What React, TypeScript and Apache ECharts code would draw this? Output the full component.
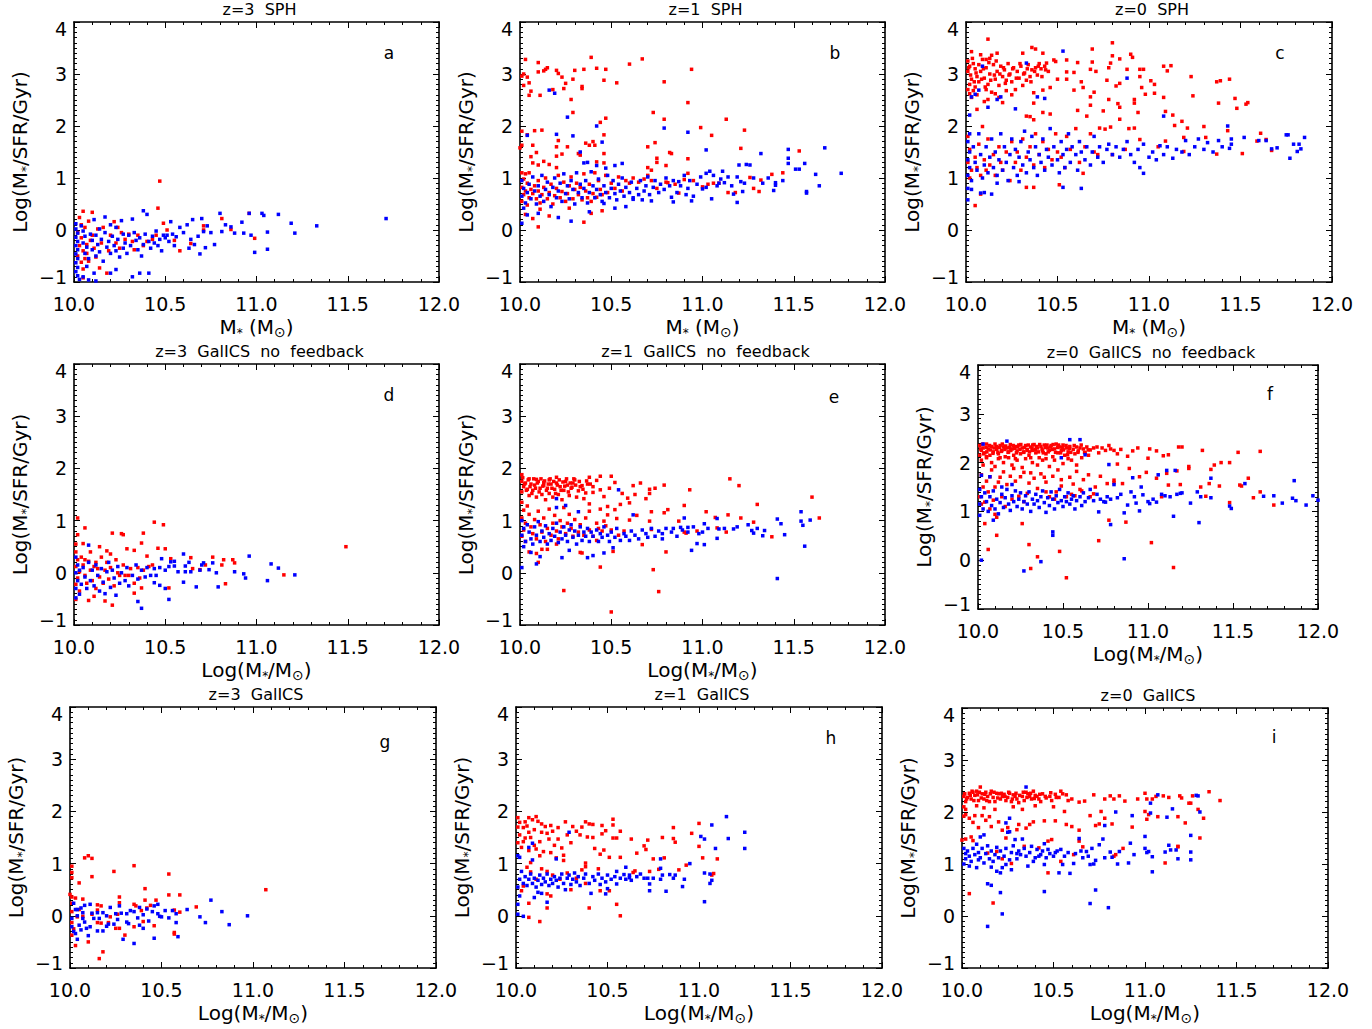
import React, { useEffect, useRef } from "react";
import * as echarts from "echarts";

// Log(M*/SFR/Gyr) against stellar mass, [mass, value] pairs

const aBlue = [
  [10.01,0.12],[10.01,0.02],[10.02,-0.06],[10.01,-0.14],[10.02,-0.22],[10.01,-0.3],[10.02,-0.38],[10.01,-0.46],[10.02,-0.55],[10.01,-0.63],[10.02,-0.72],[10.01,-0.8],[10.02,-0.88],[10.03,-0.95],[10.05,-0.9],
  [10.04,0.08],[10.05,-0.02],[10.06,-0.12],[10.05,-0.25],[10.07,-0.33],[10.06,-0.45],[10.08,-0.55],[10.07,-0.7],[10.09,-0.08],[10.1,-0.2],[10.1,-0.38],[10.11,0.2],[10.12,-0.5],[10.12,-0.1],[10.13,-0.28],[10.14,0.02],[10.14,-0.42],[10.15,-0.18],[10.16,-0.6],[10.17,0.25],[10.17,-0.05],[10.18,-0.33],[10.19,-0.22],[10.2,-0.45],[10.2,0.1],[10.21,-0.12],[10.22,-0.3],[10.23,-0.4],[10.23,0.05],[10.24,-0.18],[10.25,-0.52],[10.26,0.18],[10.27,-0.08],[10.27,-0.35],[10.28,-0.25],[10.29,-0.45],[10.3,-0.1],[10.31,-0.3],[10.32,0.21],[10.33,-0.05],[10.34,-0.2],[10.35,-0.38],[10.36,-0.15],[10.37,-0.5],[10.38,0.37],[10.38,-0.28],[10.39,-0.08],[10.4,0.3],[10.41,-0.22],[10.42,-0.35],[10.43,-0.12],[10.44,-0.25],[10.45,-0.02],[10.46,-0.3],[10.47,-0.18],[10.48,-0.4],[10.49,-0.1],[10.5,-0.15],[10.51,-0.1],[10.52,-0.22],[10.53,0.16],[10.54,-0.08],[10.55,-0.3],[10.56,-0.13],[10.58,0.05],[10.6,-0.05],[10.62,0.1],[10.63,-0.35],[10.64,-0.18],[10.65,0.2],[10.66,-0.28],[10.68,-0.12],[10.69,-0.46],[10.7,0.22],[10.71,-0.03],[10.72,-0.34],[10.73,0.08],[10.75,-0.05],[10.77,-0.28],[10.8,0.32],[10.81,-0.03],[10.83,0.1],[10.86,0.06],[10.88,-0.06],[10.92,0.15],[10.93,-0.06],[10.96,0.32],[10.97,-0.1],[10.99,-0.43],[11.03,0.32],[11.04,0.28],[11.06,-0.04],[11.06,-0.37],[11.12,0.3],[11.19,0.13],[11.21,-0.06],[11.33,0.08],[11.71,0.22],
  [10.23,-0.76],[10.2,-0.83],[10.11,-0.83],[10.12,-0.98],[10.32,-0.9],[10.36,-0.83],[10.41,-0.83],[10.08,-0.96],
];
const aRed = [
  [10.47,0.94],[10.46,0.42],[10.05,0.36],[10.1,0.34],[10.03,0.24],[10.08,0.17],[10.04,0.1],[10.06,0.05],[10.02,-0.05],[10.04,-0.15],[10.03,-0.3],[10.05,-0.4],[10.02,-0.5],[10.06,-0.55],[10.04,-0.62],[10.07,-0.45],[10.08,-0.6],[10.09,-0.2],[10.11,-0.35],[10.1,-0.1],[10.13,0.02],[10.15,-0.25],[10.05,-0.75],[10.14,-0.73],[10.18,-0.83],[10.05,-0.92],[10.2,-0.1],[10.22,0.16],[10.23,-0.25],[10.24,0.05],[10.25,-0.35],[10.26,-0.05],[10.28,-0.18],[10.3,-0.08],[10.32,-0.22],[10.33,-0.38],[10.35,-0.1],[10.38,-0.3],[10.4,-0.22],[10.43,-0.18],[10.45,-0.1],[10.49,0.13],[10.51,0.0],[10.55,-0.2],[10.58,-0.4],[10.64,-0.26],[10.71,0.08],[10.71,0.0],[10.81,0.22],[10.86,0.01],[10.96,0.32],[10.99,-0.16],[10.19,-0.4],[10.16,0.05],[10.12,-0.52],[10.07,-0.28],
];

const bBlue = [
  [10.16,2.69],[10.19,2.63],[10.26,2.17],[10.04,1.82],[10.2,1.84],[10.29,1.81],[10.42,2.0],[10.79,1.96],[10.92,1.88],[10.45,1.69],[10.33,1.5],[11.02,1.54],[11.32,1.47],[11.47,1.55],[11.67,1.58],[11.47,1.38],[11.47,1.28],[11.56,1.28],[11.51,1.17],[11.53,1.17],[11.76,1.09],[11.62,1.07],[11.64,0.85],[11.57,0.74],[11.57,0.71],[11.4,0.91],[11.4,0.86],[11.39,0.76],[11.24,1.26],[11.2,1.25],[11.26,1.25],[11.19,0.53],[11.17,0.69],[11.22,0.74],[11.21,0.93],[11.11,1.13],[11.12,0.91],[11.09,0.9],[11.05,0.6],[11.04,1.13],[11.02,1.09],[11.0,0.79],[10.94,0.56],[10.91,0.68],[10.87,0.93],[10.84,0.54],[10.83,0.63],[10.72,0.56],[10.67,0.58],[10.62,0.59],[10.58,0.45],[10.52,0.42],[10.46,0.51],[10.38,0.35],[10.28,0.17],[10.21,0.24],[10.1,0.32],[10.04,0.29],[10.01,0.13],[10.56,1.28],[10.52,1.24],[10.47,1.19],[10.42,1.24],[10.37,1.3],[10.35,1.29],
  [10.01,0.95],[10.02,0.8],[10.01,0.65],[10.03,0.52],[10.02,0.42],[10.04,0.72],[10.05,0.88],[10.06,0.6],[10.07,1.02],[10.08,0.75],[10.09,0.5],[10.1,0.85],[10.11,0.65],[10.12,1.05],[10.13,0.55],[10.14,0.78],[10.15,0.92],[10.16,0.68],[10.17,0.45],[10.18,0.82],[10.19,1.0],[10.2,0.62],[10.21,0.75],[10.22,0.9],[10.23,0.55],[10.24,1.08],[10.25,0.7],[10.26,0.85],[10.27,0.6],[10.28,0.95],[10.29,0.78],[10.3,0.5],[10.31,1.1],[10.32,0.72],[10.33,0.88],[10.34,0.62],[10.35,0.8],[10.36,0.95],[10.37,0.52],[10.38,0.72],[10.39,1.12],[10.4,0.85],[10.41,0.62],[10.42,0.78],[10.43,0.98],[10.44,0.68],[10.45,0.55],[10.46,0.85],[10.47,0.72],[10.48,1.05],[10.49,0.62],[10.5,0.8],[10.51,0.95],[10.52,0.7],[10.53,0.58],[10.54,0.88],[10.55,0.75],[10.56,1.0],[10.57,0.65],[10.58,0.82],[10.6,0.72],[10.61,0.92],[10.62,0.62],[10.64,0.8],[10.65,0.68],[10.66,0.95],[10.68,0.75],[10.69,0.85],[10.7,1.02],[10.71,0.68],[10.73,0.82],[10.74,0.95],[10.76,0.72],[10.77,0.88],[10.79,0.78],[10.8,1.0],[10.82,0.85],[10.84,0.95],[10.86,0.72],[10.88,0.85],[10.9,1.05],[10.92,0.8],[10.93,0.95],[10.95,0.65],[10.97,0.88],[10.99,1.02],[11.02,0.82],[11.06,1.05],[11.08,0.85],[11.1,0.98],[11.14,1.02],[11.16,0.85],[11.19,1.02],[11.23,0.9],[11.28,1.0],[11.33,0.9],[11.36,1.0],[11.44,0.95],
];
const bRed = [
  [10.03,3.28],[10.1,3.22],[10.02,3.0],[10.01,2.96],[10.04,2.94],[10.05,2.83],[10.02,2.78],[10.06,2.67],[10.11,2.59],[10.05,2.59],[10.1,3.04],[10.13,3.06],[10.15,3.12],[10.14,3.09],[10.2,3.07],[10.21,3.01],[10.23,2.94],[10.25,2.82],[10.24,2.72],[10.18,2.7],[10.29,2.9],[10.3,3.07],[10.35,3.09],[10.34,2.76],[10.34,2.72],[10.39,3.32],[10.42,3.11],[10.47,3.09],[10.46,2.88],[10.53,2.83],[10.6,3.19],[10.67,3.29],[10.94,3.09],[10.79,2.85],
  [10.28,2.51],[10.29,2.26],[10.92,2.45],[10.73,2.26],[10.79,2.13],[10.47,2.15],[10.44,2.07],[11.13,2.13],[11.23,1.92],[10.99,1.97],[11.05,1.82],[10.12,1.92],[10.08,1.91],[10.01,1.9],[10.04,1.83],[10.46,1.83],[10.4,1.7],[10.38,1.63],[10.41,1.63],[10.36,1.67],[10.32,1.47],[10.33,1.44],[10.26,1.6],[10.21,1.72],[10.2,1.6],[10.23,1.46],[10.2,1.42],[10.07,1.63],[10.01,1.63],[10.0,1.58],[10.06,1.41],[10.09,1.49],[10.07,1.29],[10.1,1.25],[10.13,1.32],[10.16,1.26],[10.2,1.2],[10.46,1.47],[10.46,1.29],[10.42,1.31],[10.7,1.6],[10.74,1.68],[10.75,1.38],[10.75,1.3],[10.8,1.24],[10.82,1.49],[10.83,1.47],[10.92,1.37],[11.21,1.57],[11.53,1.52],[11.44,1.1],[11.38,1.07],[11.31,0.74],[11.26,1.01],[11.32,0.96],[11.14,0.72],[11.09,0.9],[11.06,0.9],[10.92,1.09],[10.87,0.71],[10.81,0.91],[10.7,1.2],[10.72,1.15],
  [10.01,1.1],[10.03,1.08],[10.05,1.1],[10.02,0.98],[10.04,0.9],[10.01,0.82],[10.03,0.75],[10.02,0.68],[10.05,0.62],[10.01,0.55],[10.04,0.48],[10.06,0.78],[10.07,0.7],[10.08,0.85],[10.09,0.6],[10.1,0.75],[10.1,0.95],[10.11,0.52],[10.12,0.68],[10.13,0.82],[10.14,1.0],[10.15,0.6],[10.16,0.72],[10.17,0.88],[10.18,0.5],[10.19,0.66],[10.2,0.8],[10.21,1.05],[10.22,0.62],[10.23,0.74],[10.24,0.92],[10.25,0.55],[10.26,0.7],[10.27,0.85],[10.28,1.02],[10.29,0.6],[10.3,0.78],[10.31,0.9],[10.32,0.68],[10.33,0.82],[10.34,0.58],[10.35,1.08],[10.36,0.75],[10.37,0.62],[10.38,0.88],[10.39,0.55],[10.4,0.7],[10.41,1.1],[10.42,0.63],[10.43,0.95],[10.44,0.78],[10.45,0.68],[10.47,1.05],[10.48,0.72],[10.5,0.9],[10.52,0.8],[10.54,1.02],[10.56,0.75],[10.58,0.95],[10.6,0.9],[10.62,1.0],[10.65,0.92],[10.68,0.98],[10.7,1.05],[10.72,0.95],[10.75,0.8],[10.8,0.92],[10.85,0.88],[10.9,0.97],[10.95,0.95],[11.0,0.83],[11.03,0.88],[11.18,0.72],[11.28,0.8],
  [10.1,0.06],[10.35,0.15],[10.16,0.27],[10.07,0.22],[10.11,0.4],[10.45,0.37],[10.39,0.32],[10.03,0.3],[10.27,0.42],
];

const cBlue = [
  [10.53,3.44],[10.33,3.21],[10.09,3.15],[10.07,2.69],[10.05,2.61],[10.03,2.56],[10.17,2.51],[10.19,2.56],[10.12,2.36],[10.27,2.33],[10.39,2.56],[10.43,2.53],[10.88,2.92],[11.08,2.19],[10.02,2.21],[10.02,1.85],[10.01,0.8],[10.01,0.58],[10.03,0.78],[10.08,0.71],[10.1,0.72],[10.14,0.69],[10.17,0.9],[10.29,0.93],[10.53,0.82],[10.63,0.8],[10.97,1.09],[11.43,2.0],[11.44,1.57],[11.45,1.65],[11.67,1.56],[11.75,1.83],[11.76,1.83],[11.79,1.65],[11.85,1.78],[11.82,1.65],[11.81,1.51],[11.83,1.56],[11.77,1.38],[11.6,1.72],[11.52,1.78],
  [10.01,1.7],[10.02,1.5],[10.01,1.35],[10.02,1.2],[10.01,1.05],[10.03,0.95],[10.04,1.6],[10.05,1.3],[10.06,1.15],[10.07,1.85],[10.08,1.45],[10.09,1.0],[10.1,1.25],[10.11,1.6],[10.12,1.1],[10.13,1.4],[10.14,1.75],[10.15,1.2],[10.16,1.5],[10.17,1.05],[10.18,1.35],[10.19,1.85],[10.2,1.15],[10.21,1.6],[10.22,1.3],[10.23,0.95],[10.24,1.45],[10.25,1.75],[10.26,1.2],[10.27,1.55],[10.28,1.05],[10.29,1.4],[10.3,1.7],[10.31,1.25],[10.32,1.9],[10.33,1.1],[10.34,1.5],[10.35,1.35],[10.36,1.8],[10.37,1.2],[10.38,1.6],[10.39,1.05],[10.4,1.45],[10.41,1.3],[10.42,1.75],[10.43,1.15],[10.44,1.55],[10.45,1.4],[10.46,1.95],[10.47,1.25],[10.48,1.6],[10.5,1.35],[10.51,1.1],[10.52,1.7],[10.53,1.45],[10.54,1.2],[10.55,1.55],[10.56,1.85],[10.57,1.3],[10.58,1.6],[10.6,1.45],[10.61,1.15],[10.62,1.7],[10.63,1.5],[10.65,1.35],[10.66,1.6],[10.68,1.25],[10.69,1.5],[10.7,1.8],[10.72,1.4],[10.73,1.6],[10.75,1.3],[10.77,1.55],[10.78,1.65],[10.8,1.45],[10.82,1.6],[10.84,1.4],[10.86,1.55],[10.88,1.7],[10.9,1.45],[10.92,1.3],[10.94,1.55],[10.95,1.2],[10.97,1.65],[11.0,1.4],[11.02,1.5],[11.04,1.35],[11.06,1.62],[11.08,1.45],[11.1,1.6],[11.13,1.38],[11.15,1.55],[11.18,1.5],[11.2,1.72],[11.22,1.45],[11.25,1.6],[11.27,1.75],[11.3,1.55],[11.32,1.68],[11.35,1.5],[11.38,1.72],[11.4,1.6],[11.45,1.75],[11.64,1.72],[11.7,1.58],
];
const cRed = [
  [10.12,3.67],[10.03,3.43],[10.08,3.37],[10.11,3.28],[10.13,3.3],[10.17,3.4],[10.14,3.36],[10.31,3.4],[10.36,3.51],[10.38,3.48],[10.42,3.4],[10.48,3.27],[10.49,3.24],[10.44,3.21],[10.55,3.27],[10.61,3.22],[10.69,3.48],[10.69,3.23],[10.8,3.6],[10.8,3.35],[10.84,3.29],[10.9,3.38],[10.91,3.32],[10.79,3.21],[10.78,3.12],[10.68,3.09],[10.71,3.05],[10.63,2.85],[10.59,3.03],[10.55,3.04],[10.55,2.9],[10.5,2.9],[10.46,2.74],[10.42,2.69],[10.37,2.64],[10.37,2.44],[10.46,2.23],[10.42,2.26],[10.33,2.19],[10.35,2.18],[10.37,2.12],[10.61,2.3],[10.66,2.19],[10.68,2.4],[10.68,2.56],[10.7,2.65],[10.59,2.69],[10.64,2.74],[10.78,2.51],[10.75,2.29],[10.77,2.88],[10.84,2.82],[10.82,2.77],[10.88,3.09],[10.95,3.09],[10.97,3.09],[10.95,2.95],[10.96,2.74],[10.98,2.61],[11.01,2.87],[11.03,2.8],[11.03,2.63],[11.08,2.55],[10.92,2.51],[10.92,2.44],[10.94,2.26],[10.83,2.43],[10.84,2.36],[10.84,2.13],[11.08,3.15],[11.1,3.06],[11.12,3.16],[11.23,2.95],[11.24,2.58],[11.09,2.28],[11.13,2.21],[11.18,2.09],[11.21,1.96],[11.14,2.01],[11.3,1.99],[11.37,2.85],[11.39,2.87],[11.44,2.9],[11.38,2.44],[11.47,2.53],[11.48,2.34],[11.53,2.42],[11.54,2.45],[11.43,1.91],[11.31,1.78],[11.19,1.78],[11.19,1.51],[11.37,1.46],[11.51,1.47],[11.61,1.86],[11.59,1.71],[11.64,1.74],[11.67,1.53],[11.09,1.71],[10.95,1.74],[10.92,1.96],[10.89,1.95],[10.79,1.98],[10.76,1.94],[10.73,1.96],[10.64,1.09],[10.51,0.87],[10.37,0.82],[10.33,0.82],[10.05,0.47],[10.08,0.69],[10.09,1.99],[10.06,2.32],[10.1,2.47],[10.12,2.51],
  [10.01,3.25],[10.02,3.15],[10.01,3.05],[10.03,2.9],[10.02,2.8],[10.01,2.7],[10.04,3.2],[10.05,3.1],[10.06,2.95],[10.07,2.85],[10.05,2.75],[10.08,3.05],[10.09,3.28],[10.1,2.92],[10.11,3.12],[10.12,2.8],[10.13,3.0],[10.14,2.65],[10.15,3.18],[10.16,2.9],[10.17,3.05],[10.18,2.78],[10.19,3.15],[10.2,2.95],[10.21,3.08],[10.22,2.88],[10.23,3.2],[10.24,3.0],[10.25,2.85],[10.26,3.12],[10.27,2.7],[10.28,3.05],[10.29,2.92],[10.3,3.15],[10.31,2.78],[10.32,3.02],[10.33,2.88],[10.34,3.18],[10.35,2.95],[10.36,3.08],[10.38,3.12],[10.39,2.98],[10.4,3.2],[10.41,3.1],[10.43,3.15],[10.45,3.05],[10.25,2.6],[10.18,2.55],[10.2,2.45],[10.06,2.6],[10.03,2.55],
  [10.015,3.12],[10.025,2.98],[10.035,3.3],[10.045,2.85],[10.055,3.02],[10.07,3.18],[10.085,2.9],[10.095,3.1],[10.105,2.75],[10.125,3.22],[10.135,2.88],[10.155,2.98],[10.165,3.25],[10.185,3.0],[10.205,3.12],[10.215,2.82],[10.235,2.98],[10.255,3.1],[10.275,2.92],[10.295,3.2],[10.315,3.0],[10.335,3.1],[10.355,2.85],[10.375,3.05],[10.395,3.15],[10.415,2.95],[10.435,3.08],[10.02,2.62],[10.04,2.68],[10.11,2.7],[10.16,2.62],[10.22,2.68],
  [10.01,1.8],[10.02,1.55],[10.01,1.3],[10.03,1.15],[10.02,1.0],[10.05,1.4],[10.06,1.2],[10.07,1.65],[10.08,1.05],[10.1,1.35],[10.11,1.15],[10.12,1.75],[10.13,1.25],[10.15,1.45],[10.16,1.05],[10.18,1.6],[10.19,1.3],[10.2,1.15],[10.22,1.5],[10.24,0.95],[10.25,1.7],[10.27,1.3],[10.28,1.5],[10.3,1.15],[10.31,1.75],[10.33,1.4],[10.35,1.6],[10.37,1.25],[10.38,1.85],[10.4,1.45],[10.42,1.7],[10.43,1.2],[10.45,1.55],[10.47,1.35],[10.49,1.85],[10.5,1.5],[10.52,1.4],[10.54,1.2],[10.55,1.8],[10.57,1.55],[10.6,1.95],[10.62,1.3],[10.65,1.6],[10.68,1.85],[10.7,1.5],[10.72,1.45],[10.8,1.45],[10.87,1.55],[11.05,1.6],
];

const dBlue = [
  [10.08,0.53],[10.6,0.36],[10.96,0.32],[11.08,0.17],[11.12,0.09],[11.21,-0.04],[11.06,-0.15],[10.94,-0.1],[10.93,-0.02],[10.88,0.02],[10.79,-0.27],[10.78,0.0],[10.76,0.19],[10.71,0.19],[10.74,0.06],[10.67,-0.27],[10.6,-0.18],[10.61,0.02],[10.61,0.13],[10.63,0.2],[10.55,0.13],[10.52,-0.51],[10.5,-0.3],[10.47,-0.24],[10.44,-0.19],[10.37,-0.68],[10.35,-0.55],[10.23,-0.43],[10.17,-0.4],[10.03,-0.41],[10.01,-0.48],[10.53,0.21],[10.55,0.22],[10.48,0.27],
  [10.01,0.3],[10.02,0.15],[10.01,0.0],[10.02,-0.15],[10.01,-0.3],[10.03,0.05],[10.04,-0.22],[10.05,0.1],[10.06,-0.08],[10.07,-0.3],[10.08,0.2],[10.09,-0.15],[10.1,0.05],[10.11,-0.25],[10.12,0.15],[10.13,-0.05],[10.14,-0.35],[10.15,0.08],[10.16,-0.18],[10.18,0.02],[10.19,0.2],[10.2,-0.28],[10.21,0.05],[10.22,-0.1],[10.24,0.12],[10.25,-0.2],[10.26,0.0],[10.28,-0.15],[10.29,0.1],[10.3,-0.25],[10.32,-0.05],[10.34,0.15],[10.35,-0.12],[10.37,0.05],[10.39,-0.08],[10.4,0.1],[10.42,-0.05],[10.44,0.08],[10.45,-0.05],[10.47,0.1],[10.5,0.05],[10.52,0.12],[10.57,0.02],[10.64,0.02],[10.69,0.05],[10.7,0.15],
];
const dRed = [
  [10.02,1.05],[10.06,0.86],[10.02,0.73],[10.21,0.76],[10.26,0.75],[10.27,0.73],[10.38,0.76],[10.44,0.97],[10.49,0.92],[10.37,0.57],[10.33,0.43],[10.29,0.46],[10.2,0.36],[10.18,0.42],[10.14,0.5],[10.05,0.56],[10.01,0.55],[10.46,0.47],[10.5,0.46],[10.4,0.32],[10.53,0.27],[10.64,0.29],[10.76,0.3],[10.82,0.25],[10.87,0.25],[10.88,0.19],[10.81,0.15],[10.72,0.15],[10.69,0.06],[10.65,0.08],[11.49,0.5],[11.15,-0.04],[10.83,-0.21],[10.52,-0.29],[10.37,-0.29],[10.33,-0.39],[10.21,-0.62],[10.17,-0.54],[10.08,-0.53],[10.01,-0.51],[10.11,-0.45],
  [10.01,0.4],[10.02,0.25],[10.01,0.12],[10.03,0.02],[10.02,-0.1],[10.01,-0.22],[10.03,-0.35],[10.04,0.3],[10.05,0.15],[10.06,-0.05],[10.07,-0.2],[10.08,0.22],[10.09,0.05],[10.1,-0.15],[10.11,0.12],[10.12,-0.3],[10.13,0.08],[10.14,-0.08],[10.15,0.3],[10.16,-0.2],[10.17,0.05],[10.18,0.2],[10.19,-0.12],[10.2,0.1],[10.22,-0.25],[10.23,0.25],[10.24,0.0],[10.25,-0.05],[10.27,0.15],[10.28,-0.05],[10.3,-0.05],[10.31,0.08],[10.33,-0.2],[10.35,0.1],[10.36,-0.1],[10.38,0.05],[10.41,0.12],[10.43,0.15],[10.06,0.25],[10.09,0.4],[10.12,0.2],
];

const eBlue = [
  [10.54,1.59],[10.2,1.25],[10.25,1.29],[10.32,1.17],[10.62,1.11],[10.2,1.42],[10.01,0.1],[10.09,0.17],[10.11,0.31],[10.23,0.29],[10.37,0.29],[10.4,0.33],[10.46,0.38],[10.51,0.48],[10.27,0.43],[10.06,0.39],[10.94,0.43],[10.97,0.56],[11.01,0.54],[11.08,0.66],[10.9,1.05],[11.08,1.04],[11.09,0.84],[11.17,0.84],[11.25,0.92],[11.27,0.81],[11.28,0.76],[11.33,0.71],[11.34,0.81],[11.41,1.03],[11.43,0.94],[11.45,0.73],[11.54,0.99],[11.54,1.17],[11.55,0.91],[11.59,1.01],[11.56,0.51],[11.41,-0.11],[11.01,0.94],[11.0,0.78],[10.92,0.87],[10.88,0.87],[10.84,0.85],[10.78,0.65],
  [10.01,1.0],[10.02,0.85],[10.01,0.72],[10.03,0.6],[10.02,0.5],[10.04,0.92],[10.05,0.78],[10.06,0.65],[10.07,0.55],[10.08,0.88],[10.09,0.72],[10.1,0.98],[10.11,0.6],[10.12,0.8],[10.13,0.68],[10.14,0.9],[10.15,0.55],[10.16,0.75],[10.17,0.62],[10.18,0.85],[10.19,0.7],[10.2,0.95],[10.21,0.58],[10.22,0.78],[10.23,0.65],[10.24,0.88],[10.25,0.72],[10.26,0.6],[10.27,0.82],[10.28,0.92],[10.29,0.68],[10.3,0.8],[10.31,0.55],[10.32,0.72],[10.33,0.88],[10.34,0.62],[10.35,0.78],[10.36,0.7],[10.37,0.85],[10.38,0.6],[10.39,0.78],[10.4,0.7],[10.42,0.82],[10.43,0.6],[10.44,0.75],[10.45,0.68],[10.46,0.88],[10.48,0.72],[10.49,0.6],[10.5,0.78],[10.52,0.68],[10.53,0.85],[10.55,0.62],[10.57,0.75],[10.58,0.7],[10.6,0.62],[10.61,0.8],[10.63,0.72],[10.65,0.65],[10.67,0.82],[10.69,0.75],[10.7,0.68],[10.72,0.85],[10.74,0.7],[10.76,0.8],[10.78,0.75],[10.8,0.85],[10.83,0.78],[10.86,0.7],[10.89,0.82],[10.92,0.78],[10.95,0.88],[10.98,0.75],[11.03,0.85],[11.12,0.85],[11.19,0.88],[11.3,0.85],
];
const eRed = [
  [10.01,1.88],[10.05,1.8],[10.09,1.79],[10.13,1.73],[10.16,1.78],[10.2,1.83],[10.25,1.75],[10.3,1.78],[10.34,1.67],[10.38,1.83],[10.42,1.77],[10.44,1.85],[10.5,1.85],[10.52,1.73],[10.49,1.62],[10.44,1.59],[10.4,1.54],[10.36,1.53],[10.32,1.57],[10.46,1.46],[10.56,1.52],[10.62,1.67],[10.66,1.72],[10.63,1.5],[10.59,1.43],[10.71,1.6],[10.74,1.62],[10.79,1.68],[10.71,1.52],[10.69,1.42],[10.6,1.34],[10.55,1.31],[10.48,1.27],[10.44,1.22],[10.38,1.32],[10.38,1.18],[10.48,1.11],[10.52,1.21],[10.53,1.04],[10.46,0.99],[10.42,0.95],[10.64,1.1],[10.6,1.01],[10.72,1.17],[10.79,1.15],[10.81,1.21],[10.9,1.29],[10.87,0.99],[10.93,1.59],[11.15,1.8],[11.2,1.67],[11.3,1.31],[11.28,0.97],[11.02,1.17],[11.07,1.06],[11.14,1.11],[11.21,1.05],[11.08,0.86],[11.13,0.78],[10.97,0.8],[10.9,0.78],[10.91,0.76],[10.71,0.99],[10.72,0.83],[10.67,0.54],[10.73,0.06],[10.76,-0.36],[10.5,-0.75],[10.24,-0.34],[10.44,0.11],[10.51,0.41],[10.8,0.4],[10.33,0.39],[10.34,0.38],[10.1,0.2],[10.09,0.37],[10.15,0.45],[11.38,0.69],[11.6,1.45],[11.64,1.05],
  [10.01,1.75],[10.02,1.65],[10.01,1.55],[10.03,1.72],[10.04,1.6],[10.05,1.48],[10.06,1.7],[10.07,1.58],[10.08,1.68],[10.09,1.45],[10.1,1.75],[10.11,1.62],[10.12,1.5],[10.13,1.68],[10.14,1.4],[10.15,1.62],[10.16,1.52],[10.17,1.7],[10.18,1.45],[10.19,1.6],[10.2,1.72],[10.21,1.5],[10.22,1.65],[10.23,1.4],[10.24,1.58],[10.26,1.68],[10.27,1.48],[10.28,1.62],[10.29,1.72],[10.31,1.45],[10.33,1.65],[10.35,1.42],[10.37,1.7],[10.4,1.65],
  [10.015,1.82],[10.025,1.7],[10.035,1.58],[10.045,1.78],[10.055,1.65],[10.065,1.52],[10.075,1.8],[10.085,1.62],[10.095,1.72],[10.105,1.55],[10.115,1.8],[10.125,1.66],[10.135,1.76],[10.145,1.58],[10.155,1.7],[10.165,1.8],[10.175,1.62],[10.185,1.75],[10.195,1.52],[10.205,1.68],[10.215,1.78],[10.225,1.58],[10.235,1.74],[10.245,1.66],[10.255,1.8],[10.265,1.55],[10.275,1.72],[10.285,1.64],[10.295,1.8],[10.305,1.68],[10.325,1.75],[10.345,1.6],[10.365,1.76],[10.385,1.7],
  [10.01,1.35],[10.02,1.2],[10.01,1.05],[10.03,0.95],[10.02,0.82],[10.01,0.7],[10.03,0.6],[10.04,1.28],[10.05,1.12],[10.06,0.88],[10.07,0.75],[10.08,1.02],[10.09,0.65],[10.1,1.18],[10.11,0.92],[10.12,0.78],[10.13,1.05],[10.14,0.6],[10.15,0.85],[10.16,1.22],[10.17,0.72],[10.18,0.95],[10.19,1.1],[10.2,0.8],[10.21,0.65],[10.22,1.0],[10.23,0.88],[10.24,1.25],[10.25,0.75],[10.26,0.95],[10.27,1.12],[10.28,0.85],[10.29,0.7],[10.3,1.02],[10.32,0.78],[10.33,0.92],[10.35,0.72],[10.36,1.05],[10.38,0.82],[10.4,0.7],[10.43,0.85],[10.45,0.8],[10.47,0.9],[10.5,0.82],[10.54,0.72],[10.57,0.8],[10.42,0.62],[10.2,0.55],[10.12,0.45],[10.05,0.4],
];

const fBlue = [
  [10.03,2.38],[10.17,2.44],[10.54,2.47],[10.6,2.47],[10.49,2.1],[10.63,2.16],[10.77,1.96],[10.91,1.69],[11.06,1.75],[11.11,1.84],[11.16,1.84],[11.37,1.68],[11.57,1.57],[11.86,1.63],[11.97,1.32],[12.0,1.23],[11.93,1.13],[11.87,1.22],[11.85,1.27],[11.79,1.17],[11.74,1.32],[11.68,1.31],[11.49,1.06],[11.48,1.11],[11.37,1.28],[11.3,0.77],[11.15,0.9],[11.19,1.37],[11.17,1.35],[11.25,1.17],[11.29,1.4],[11.31,1.3],[11.13,1.3],[11.05,1.19],[11.01,1.16],[10.97,1.34],[10.96,1.5],[10.95,1.01],[10.93,1.17],[10.88,1.13],[10.86,0.97],[10.84,1.35],[10.8,1.55],[10.75,1.19],[10.71,0.99],[10.78,0.73],[10.86,0.03],[10.44,0.51],[10.44,0.58],[10.37,-0.03],[10.27,-0.22],[10.02,0.0],[10.01,0.92],[10.09,0.82],[10.02,1.74],[10.07,1.71],[10.14,1.5],[10.2,1.55],
  [10.01,1.45],[10.02,1.3],[10.01,1.15],[10.03,1.05],[10.04,1.38],[10.05,1.2],[10.06,1.0],[10.07,1.3],[10.08,1.12],[10.09,1.42],[10.1,1.05],[10.11,1.25],[10.12,0.95],[10.13,1.18],[10.14,1.35],[10.15,1.08],[10.16,1.28],[10.17,1.45],[10.18,1.15],[10.19,1.02],[10.2,1.32],[10.21,1.2],[10.22,1.42],[10.23,1.1],[10.24,1.25],[10.25,1.38],[10.26,1.05],[10.27,1.2],[10.28,1.32],[10.29,1.15],[10.3,1.4],[10.31,1.0],[10.32,1.25],[10.33,1.15],[10.34,1.35],[10.35,1.22],[10.36,1.08],[10.37,1.3],[10.38,1.42],[10.39,1.18],[10.4,0.98],[10.41,1.28],[10.42,1.12],[10.43,1.4],[10.44,1.25],[10.45,1.05],[10.46,1.32],[10.47,1.18],[10.48,1.45],[10.49,1.22],[10.5,1.1],[10.51,1.3],[10.52,1.2],[10.53,1.38],[10.54,1.15],[10.55,1.25],[10.56,1.32],[10.57,1.05],[10.58,1.22],[10.6,1.3],[10.61,1.12],[10.62,1.38],[10.63,1.2],[10.65,1.28],[10.66,1.45],[10.68,1.22],[10.7,1.35],[10.72,1.25],[10.74,1.2],[10.76,1.3],[10.78,1.25],[10.82,1.28],[10.9,1.4],[10.92,1.3],[11.0,1.2],[11.03,1.25],[11.08,1.35],[11.1,1.32],[11.2,1.38],
];
const fRed = [
  [10.01,2.35],[10.02,2.25],[10.01,2.15],[10.03,2.3],[10.04,2.2],[10.05,2.38],[10.06,2.28],[10.07,2.15],[10.08,2.33],[10.09,2.22],[10.1,2.38],[10.11,2.27],[10.12,2.18],[10.13,2.35],[10.14,2.25],[10.15,2.32],[10.16,2.12],[10.17,2.3],[10.18,2.22],[10.19,2.37],[10.2,2.28],[10.21,2.15],[10.22,2.33],[10.23,2.24],[10.24,2.36],[10.25,2.18],[10.26,2.3],[10.27,2.22],[10.28,2.35],[10.29,2.27],[10.3,2.15],[10.31,2.32],[10.32,2.25],[10.33,2.37],[10.34,2.2],[10.35,2.3],[10.36,2.1],[10.37,2.33],[10.38,2.24],[10.39,2.36],[10.4,2.18],[10.41,2.3],[10.42,2.25],[10.43,2.35],[10.44,2.12],[10.45,2.28],[10.46,2.38],[10.47,2.2],[10.48,2.32],[10.49,2.25],[10.5,2.36],[10.51,2.15],[10.52,2.3],[10.53,2.22],[10.54,2.33],[10.55,2.05],[10.56,2.27],[10.57,2.18],[10.58,2.32],[10.59,2.24],[10.6,2.3],[10.61,2.1],[10.62,2.28],[10.63,2.2],[10.64,2.32],[10.65,2.15],[10.66,2.26],[10.68,2.3],[10.7,2.32],[10.71,2.2],[10.73,2.3],[10.75,2.25],[10.77,2.35],[10.78,2.28],[10.8,2.25],[10.82,2.18],[10.84,2.27],
  [10.015,2.28],[10.027,2.38],[10.033,2.18],[10.048,2.31],[10.052,2.22],[10.068,2.35],[10.072,2.26],[10.088,2.19],[10.094,2.3],[10.108,2.33],[10.117,2.21],[10.126,2.31],[10.138,2.23],[10.143,2.38],[10.158,2.27],[10.163,2.34],[10.177,2.21],[10.186,2.31],[10.193,2.25],[10.207,2.35],[10.214,2.29],[10.226,2.2],[10.233,2.32],[10.247,2.27],[10.252,2.37],[10.268,2.21],[10.273,2.31],[10.289,2.25],[10.296,2.36],[10.303,2.22],[10.318,2.29],[10.322,2.36],[10.337,2.27],[10.344,2.33],[10.356,2.22],[10.363,2.37],[10.377,2.28],[10.384,2.2],[10.398,2.31],[10.406,2.36],[10.413,2.22],[10.428,2.32],[10.437,2.27],[10.442,2.37],[10.456,2.21],[10.468,2.31],[10.474,2.36],[10.486,2.2],[10.497,2.31],[10.503,2.26],[10.518,2.35],[10.527,2.16],[10.538,2.29],[10.546,2.21],[10.566,2.35],[10.588,2.21],[10.607,2.36],[10.627,2.21],[10.648,2.26],[10.05,2.12],[10.13,2.1],[10.22,2.08],[10.31,2.1],[10.4,2.08],
  [10.02,2.05],[10.03,1.95],[10.05,2.1],[10.08,2.0],[10.1,1.92],[10.12,2.08],[10.15,2.0],[10.18,2.1],[10.2,1.95],[10.23,2.05],[10.26,1.9],[10.28,2.08],[10.32,2.0],[10.35,1.95],[10.38,2.05],[10.42,1.92],[10.45,2.05],[10.5,1.98],[10.53,2.08],[10.58,1.95],
  [10.06,0.22],[10.11,0.51],[10.3,0.32],[10.35,0.07],[10.31,-0.17],[10.48,0.18],[10.52,-0.36],[10.71,0.4],[11.02,0.36],[11.15,-0.15],[10.04,0.75],[10.26,0.75],[10.77,0.82],[10.87,0.78],[11.66,2.23],[11.53,2.21],[11.32,2.25],[11.43,2.0],[11.48,2.0],[11.39,1.95],[11.37,1.86],[11.36,1.57],[11.42,1.52],[11.34,1.31],[11.31,1.5],[11.48,1.18],[11.54,1.54],[11.55,1.52],[11.59,1.68],[11.62,1.28],[11.66,1.4],[11.74,1.13],[11.2,2.32],[11.18,2.32],[11.12,2.16],[11.09,2.14],[11.05,2.24],[11.01,2.28],[11.0,2.09],[10.94,2.3],[10.91,2.24],[10.88,2.13],[10.89,1.88],[10.99,1.8],[10.95,1.71],[10.82,1.97],[10.8,1.64],[10.8,1.59],[10.76,1.57],[10.85,1.57],[11.12,1.54],[11.19,1.55],[11.05,1.68],[11.24,1.92],[11.24,1.88],[11.17,1.83],[11.11,1.78],[11.08,1.3],[10.69,1.5],[10.61,1.42],[10.56,1.56],[10.49,1.65],[10.49,1.52],[10.46,1.4],[10.42,1.3],[10.37,1.77],[10.39,1.7],[10.31,1.79],[10.25,1.71],[10.21,1.88],[10.15,1.81],[10.12,1.6],[10.07,1.71],[10.03,1.5],[10.01,1.3],[10.04,1.19],[10.09,1.23],[10.1,0.94],[10.11,0.88],[10.16,1.1],[10.06,1.4],[10.24,1.31],[10.29,1.37],[10.35,1.47],[10.52,1.3],[10.57,1.32],[10.66,1.3],[10.68,1.36],
  [10.02,1.75],[10.05,1.62],[10.08,1.85],[10.1,1.5],[10.13,1.7],[10.17,1.55],[10.19,1.72],[10.22,1.62],[10.27,1.8],[10.3,1.58],[10.33,1.68],[10.4,1.6],[10.44,1.72],[10.47,1.85],[10.54,1.7],[10.58,1.82],[10.62,1.65],[10.65,1.75],[10.72,1.72],[10.02,1.15],[10.07,1.05],[10.14,1.3],[10.2,1.25],[10.27,1.2],[10.4,1.4],[10.45,1.25],[10.6,1.45],[10.55,1.35],
];

const gBlue = [
  [10.02,0.24],[10.03,0.12],[10.04,0.0],[10.04,0.12],[10.07,0.06],[10.08,0.2],[10.11,0.22],[10.15,0.06],[10.18,0.06],[10.2,0.0],[10.22,0.16],[10.25,0.04],[10.27,0.19],[10.31,0.04],[10.33,0.1],[10.37,-0.04],[10.38,0.16],[10.42,0.13],[10.46,0.19],[10.48,0.22],[10.48,0.04],[10.49,-0.01],[10.5,-0.02],[10.54,-0.04],[10.56,0.1],[10.58,0.04],[10.64,0.12],[10.71,-0.02],[10.74,-0.13],[10.77,0.3],[10.83,0.08],[10.87,-0.17],[10.97,0.0],[10.58,-0.13],[10.59,-0.4],[10.46,-0.43],[10.35,-0.53],[10.29,-0.45],[10.24,-0.16],[10.21,-0.16],[10.18,-0.29],[10.15,-0.29],[10.1,-0.38],[10.07,-0.05],[10.04,-0.45],[10.03,-0.34],[10.06,-0.27],[10.01,-0.21],[10.01,-0.05],[10.09,-0.24],[10.11,-0.21],[10.13,-0.05],[10.16,-0.05],[10.32,-0.15],[10.31,-0.12],[10.38,-0.18],[10.4,-0.24],[10.43,-0.1],[10.26,-0.07],[10.02,-0.3],[10.05,-0.18],[10.06,0.15],[10.08,-0.12],[10.12,0.05],[10.2,-0.2],[10.28,0.05],[10.35,0.08],[10.4,0.02],[10.45,0.08],[10.52,0.1],
];
const gRed = [
  [10.08,1.11],[10.1,1.15],[10.12,1.1],[10.01,0.95],[10.01,0.83],[10.01,0.73],[10.12,0.75],[10.05,0.63],[10.0,0.41],[10.01,0.36],[10.03,0.34],[10.07,0.32],[10.24,0.85],[10.35,0.96],[10.54,0.8],[10.41,0.52],[10.54,0.4],[10.6,0.4],[10.47,0.3],[10.41,0.3],[10.27,0.36],[10.27,0.25],[10.26,0.03],[10.35,0.22],[10.36,0.19],[10.39,0.1],[10.44,0.2],[10.42,0.15],[10.57,0.11],[10.6,0.07],[10.69,0.17],[11.07,0.5],[10.15,0.21],[10.17,0.19],[10.15,0.11],[10.12,0.03],[10.07,-0.01],[10.01,0.24],[10.01,0.08],[10.01,-0.13],[10.02,-0.25],[10.01,-0.37],[10.03,-0.57],[10.1,-0.5],[10.15,-0.13],[10.17,-0.14],[10.18,-0.69],[10.16,-0.82],[10.21,-0.13],[10.22,-0.02],[10.25,-0.24],[10.27,-0.24],[10.3,-0.37],[10.35,-0.21],[10.4,-0.11],[10.46,-0.19],[10.57,-0.32],[10.57,-0.35],[10.04,-0.02],[10.05,0.12],
];

const hBlue = [
  [11.15,1.9],[11.25,1.6],[11.25,1.29],[11.16,1.48],[11.09,1.29],[11.07,1.74],[11.03,1.47],[11.01,1.52],[10.95,1.0],[10.79,1.09],[10.29,1.6],[10.09,1.39],[10.07,1.31],[10.01,1.15],[10.02,1.12],[10.09,1.07],[10.22,1.09],[10.6,0.93],[11.03,0.82],[11.03,0.27],[11.06,0.8],[11.06,0.62],[11.07,0.68],[10.92,0.7],[10.91,0.56],[10.87,0.78],[10.84,0.79],[10.82,0.47],[10.79,0.7],[10.79,0.91],[10.73,0.61],[10.73,0.48],[10.72,0.72],[10.63,0.68],[10.62,0.73],[10.59,0.79],[10.55,0.85],[10.55,0.61],[10.5,0.52],[10.49,0.42],[10.41,0.43],[10.17,0.26],[10.01,0.22],[10.01,0.03],[10.04,-0.01],[10.02,0.38],[10.1,0.35],[10.12,0.45],[10.14,0.43],
  [10.01,0.55],[10.02,0.7],[10.03,0.85],[10.04,0.62],[10.05,0.75],[10.06,0.58],[10.07,0.7],[10.08,0.8],[10.09,0.62],[10.1,0.72],[10.11,0.55],[10.12,0.68],[10.13,0.78],[10.14,0.6],[10.15,0.72],[10.16,0.65],[10.17,0.8],[10.18,0.58],[10.19,0.7],[10.2,0.62],[10.21,0.75],[10.22,0.68],[10.23,0.55],[10.24,0.72],[10.25,0.8],[10.26,0.62],[10.27,0.5],[10.28,0.72],[10.29,0.78],[10.3,0.6],[10.31,0.7],[10.32,0.82],[10.33,0.65],[10.34,0.75],[10.35,0.58],[10.37,0.72],[10.38,0.8],[10.4,0.62],[10.42,0.75],[10.43,0.68],[10.45,0.8],[10.46,0.6],[10.47,0.72],[10.49,0.65],[10.5,0.78],[10.52,0.7],[10.54,0.75],[10.57,0.72],[10.6,0.7],[10.62,0.78],[10.66,0.75],[10.68,0.8],[10.7,0.72],[10.75,0.72],[10.8,0.78],[10.86,0.72],
];
const hRed = [
  [10.01,1.88],[10.07,1.88],[10.11,1.9],[10.12,1.81],[10.09,1.84],[10.05,1.8],[10.02,1.79],[10.04,1.69],[10.07,1.6],[10.1,1.65],[10.14,1.76],[10.16,1.71],[10.19,1.73],[10.23,1.69],[10.27,1.8],[10.31,1.71],[10.38,1.8],[10.4,1.76],[10.42,1.75],[10.47,1.73],[10.53,1.85],[10.53,1.74],[10.57,1.62],[10.49,1.63],[10.47,1.57],[10.42,1.5],[10.39,1.51],[10.35,1.55],[10.28,1.55],[10.23,1.47],[10.18,1.47],[10.13,1.42],[10.08,1.5],[10.05,1.49],[10.03,1.31],[10.07,1.25],[10.11,1.28],[10.13,1.15],[10.15,1.23],[10.19,1.21],[10.22,1.11],[10.26,1.16],[10.25,1.3],[10.26,1.06],[10.43,1.29],[10.48,1.26],[10.46,1.18],[10.51,1.12],[10.57,1.12],[10.53,1.49],[10.55,1.49],[10.63,1.47],[10.66,1.2],[10.7,1.34],[10.71,1.27],[10.72,1.45],[10.75,1.09],[10.81,1.11],[10.8,1.5],[10.86,1.69],[10.86,1.48],[10.87,1.41],[10.96,1.58],[11.0,1.77],[11.0,1.33],[11.02,1.11],[11.1,1.09],[10.93,0.97],[10.89,0.88],[10.78,0.89],[10.73,0.85],[11.08,0.81],[11.07,0.78],[10.65,0.86],[10.64,0.83],[10.38,1.01],[10.38,0.94],[10.45,0.9],[10.38,0.62],[10.46,0.48],[10.51,0.48],[10.55,0.22],[10.57,0.0],[10.4,0.15],[10.3,0.5],[10.17,0.42],[10.19,0.38],[10.17,0.15],[10.07,0.24],[10.07,-0.03],[10.13,-0.11],[10.03,0.48],[10.08,0.84],[10.06,0.93],[10.08,1.02],[10.11,0.7],[10.04,0.57],
  [10.01,1.7],[10.02,1.55],[10.01,1.4],[10.04,1.42],[10.06,1.72],[10.1,1.35],[10.14,1.6],[10.17,1.58],[10.2,1.62],[10.21,1.35],[10.3,1.4],[10.33,1.62],[10.36,1.7],[10.17,0.85],[10.2,0.78],[10.24,0.7],[10.28,0.82],[10.14,0.9],[10.33,0.72],[10.36,0.88],
];

const iBlue = [
  [10.35,2.48],[10.26,1.88],[10.24,1.79],[10.12,1.56],[10.1,1.52],[10.26,1.62],[10.78,1.74],[10.84,2.0],[10.93,1.93],[11.03,2.17],[11.07,2.33],[11.28,2.32],[11.29,2.31],[11.3,2.0],[11.15,2.06],[11.12,1.9],[11.03,1.98],[11.0,1.53],[11.25,1.55],[11.25,1.23],[11.25,1.08],[11.18,1.1],[11.17,1.27],[11.13,1.36],[11.14,1.27],[11.11,1.23],[11.04,1.14],[11.04,0.85],[11.02,1.24],[11.01,1.22],[11.0,1.3],[10.94,1.18],[10.91,1.02],[10.92,1.4],[10.86,1.24],[10.85,1.0],[10.82,1.13],[10.81,1.23],[10.78,1.12],[10.77,1.48],[10.75,1.37],[10.73,1.07],[10.72,1.0],[10.71,1.3],[10.7,0.99],[10.7,0.24],[10.73,0.5],[10.8,0.16],[10.68,1.24],[10.66,1.12],[10.64,1.49],[10.61,1.01],[10.59,0.82],[10.55,0.99],[10.54,1.28],[10.53,0.83],[10.51,1.22],[10.47,1.28],[10.45,1.39],[10.45,0.99],[10.45,0.47],[10.43,1.18],[10.4,1.12],[10.38,1.34],[10.36,0.96],[10.33,1.48],[10.3,1.2],[10.29,1.47],[10.27,0.89],[10.25,1.61],[10.24,0.99],[10.22,0.93],[10.21,0.83],[10.19,0.86],[10.16,0.94],[10.14,0.62],[10.16,0.59],[10.21,0.45],[10.22,0.04],[10.14,-0.2],[10.02,1.1],[10.04,0.96],[10.08,0.93],[10.09,1.08],
  [10.01,1.3],[10.02,1.2],[10.01,1.0],[10.03,1.25],[10.04,1.15],[10.05,1.05],[10.06,1.3],[10.07,1.18],[10.08,1.38],[10.09,1.22],[10.1,1.12],[10.11,1.3],[10.12,1.02],[10.13,1.2],[10.14,1.35],[10.15,1.1],[10.16,1.25],[10.17,1.05],[10.18,1.18],[10.19,1.32],[10.2,1.12],[10.21,1.25],[10.23,1.15],[10.24,1.3],[10.26,1.08],[10.27,1.22],[10.28,1.35],[10.3,1.1],[10.31,1.25],[10.32,1.18],[10.34,1.3],[10.35,1.15],[10.37,1.22],[10.39,1.05],[10.41,1.28],[10.42,1.15],[10.44,1.25],[10.46,1.12],[10.48,1.2],[10.5,1.15],[10.52,1.25],[10.56,1.15],[10.58,1.22],[10.62,1.2],[10.65,1.25],[10.69,1.15],
];
const iRed = [
  [10.1,2.48],[10.04,2.36],[10.06,2.38],[10.08,2.4],[10.13,2.38],[10.19,2.36],[10.23,2.34],[10.26,2.36],[10.29,2.3],[10.35,2.38],[10.37,2.3],[10.39,2.4],[10.4,2.32],[10.42,2.25],[10.46,2.27],[10.51,2.34],[10.54,2.4],[10.57,2.33],[10.6,2.25],[10.64,2.19],[10.67,2.21],[10.72,2.33],[10.78,2.25],[10.81,2.31],[10.83,2.25],[10.86,2.31],[10.89,2.21],[10.96,2.25],[11.0,2.36],[11.01,2.25],[11.04,2.25],[11.06,2.3],[11.1,2.31],[11.13,2.28],[11.19,2.31],[11.2,2.27],[11.24,2.17],[11.25,2.17],[11.26,2.31],[11.29,2.05],[11.35,2.39],[11.41,2.22],[11.32,1.88],[11.22,1.79],[11.18,1.91],[11.07,1.91],[11.01,1.86],[11.02,1.95],[11.0,2.01],[10.93,1.71],[10.82,1.77],[10.78,1.88],[10.76,2.01],[10.75,1.77],[10.73,1.74],[10.7,1.93],[10.64,1.65],[10.6,1.72],[10.57,1.76],[10.56,2.01],[10.51,1.83],[10.45,1.83],[10.39,1.81],[10.37,1.76],[10.35,1.69],[10.31,1.76],[10.3,1.66],[10.25,1.7],[10.22,1.65],[10.2,1.81],[10.16,1.72],[10.15,1.91],[10.13,1.84],[10.11,1.93],[10.09,1.7],[10.06,1.8],[10.07,1.93],[10.02,2.05],[10.02,1.95],[10.04,1.88],[10.01,1.92],[10.02,1.48],[10.0,1.46],[10.05,1.52],[10.06,1.45],[10.24,1.5],[10.34,1.34],[10.42,1.31],[10.49,1.47],[10.47,1.44],[10.64,1.44],[10.66,1.33],[10.61,1.18],[10.54,1.05],[10.47,0.83],[10.27,1.01],[10.22,1.1],[10.14,1.21],[10.19,1.24],[10.84,1.18],[10.83,1.15],[10.88,1.3],[11.11,1.02],[11.18,1.34],[11.18,1.33],[11.3,1.5],[10.04,0.43],[10.17,0.25],
  [10.01,2.3],[10.02,2.2],[10.01,2.1],[10.03,2.28],[10.05,2.25],[10.07,2.32],[10.09,2.22],[10.11,2.35],[10.12,2.25],[10.14,2.3],[10.15,2.2],[10.16,2.4],[10.17,2.28],[10.18,2.2],[10.2,2.35],[10.21,2.25],[10.22,2.3],[10.24,2.22],[10.25,2.28],[10.27,2.2],[10.28,2.33],[10.3,2.25],[10.31,2.18],[10.33,2.3],[10.34,2.22],[10.36,2.35],[10.38,2.25],[10.41,2.3],[10.43,2.2],[10.44,2.35],[10.48,2.3],[10.49,2.22],[10.53,2.28],[10.55,2.35],[10.58,2.22],[10.08,2.12],[10.12,2.08],[10.18,2.05],[10.28,2.1],[10.33,2.05],[10.4,2.12],[10.5,2.1],
  [10.015,2.35],[10.025,2.25],[10.045,2.32],[10.055,2.4],[10.065,2.22],[10.085,2.33],[10.095,2.38],[10.105,2.27],[10.125,2.34],[10.135,2.22],[10.155,2.35],[10.175,2.38],[10.195,2.27],[10.215,2.36],[10.235,2.3],[10.255,2.38],[10.275,2.25],[10.295,2.36],[10.315,2.32],[10.335,2.38],[10.355,2.28],[10.375,2.36],[10.395,2.26],[10.425,2.34],[10.455,2.3],[10.485,2.37],[10.515,2.28],
];

const xTicks = { min: 10, max: 12, step: 0.5 };
const yTicks = { min: -1, max: 4, step: 1 };

const FONT = "DejaVu Sans";
const MASS = "M{sub|*} (M{sun|⊙})";
const LOGMASS = "Log(M{sub|*}/M{sun|⊙})";
const YNAME = "Log(M{sub|*}/SFR/Gyr)";

// box = [left, top, width, height] of each plot frame in page pixels
const panels = [
  { tag: "a", title: "z=3  SPH", xName: MASS, box: [74, 22, 365, 260], tagAt: [389, 53], blue: aBlue, red: aRed },
  { tag: "b", title: "z=1  SPH", xName: MASS, box: [520, 22, 365, 260], tagAt: [835, 53], blue: bBlue, red: bRed },
  { tag: "c", title: "z=0  SPH", xName: MASS, box: [966, 22, 366, 260], tagAt: [1280, 53], blue: cBlue, red: cRed },
  { tag: "d", title: "z=3  GalICS  no  feedback", xName: LOGMASS, box: [74, 364, 365, 261], tagAt: [389, 395], blue: dBlue, red: dRed },
  { tag: "e", title: "z=1  GalICS  no  feedback", xName: LOGMASS, box: [520, 364, 365, 261], tagAt: [834, 397], blue: eBlue, red: eRed },
  { tag: "f", title: "z=0  GalICS  no  feedback", xName: LOGMASS, box: [978, 365, 340, 244], tagAt: [1270, 394], blue: fBlue, red: fRed },
  { tag: "g", title: "z=3  GalICS", xName: LOGMASS, box: [70, 707, 366, 261], tagAt: [385, 742], blue: gBlue, red: gRed },
  { tag: "h", title: "z=1  GalICS", xName: LOGMASS, box: [516, 707, 366, 261], tagAt: [831, 738], blue: hBlue, red: hRed },
  { tag: "i", title: "z=0  GalICS", xName: LOGMASS, box: [962, 708, 366, 260], tagAt: [1274, 737], blue: iBlue, red: iRed },
];

const nameRich = {
  sub: { fontFamily: FONT, fontSize: 12, color: "#000", lineHeight: 13, verticalAlign: "bottom" },
  sun: { fontFamily: FONT, fontSize: 14, color: "#000", lineHeight: 15, verticalAlign: "bottom" },
};
const nameStyle = { fontFamily: FONT, fontSize: 20, color: "#000", lineHeight: 24, rich: nameRich };
const labelBase = { fontFamily: FONT, fontSize: 19, color: "#000" };

const frame = {
  splitLine: { show: false },
  axisLine: { show: true, onZero: false, lineStyle: { color: "#000", width: 1.6 } },
  axisTick: { show: true, inside: true, length: 6, lineStyle: { color: "#000", width: 1 } },
};

function buildOption() {
  const grid: any[] = [];
  const xAxis: any[] = [];
  const yAxis: any[] = [];
  const series: any[] = [];
  const graphic: any[] = [];

  panels.forEach((p, i) => {
    const [left, top, width, height] = p.box;
    grid.push({ left, top, width, height });

    const xCommon = {
      ...frame,
      gridIndex: i,
      type: "value",
      min: xTicks.min,
      max: xTicks.max,
      interval: xTicks.step,
      minorTick: { show: true, splitNumber: 5, length: 3, lineStyle: { color: "#000" } },
    };
    xAxis.push({
      ...xCommon,
      position: "bottom",
      axisLabel: { ...labelBase, margin: 12, showMinLabel: true, showMaxLabel: true, formatter: (v: number) => v.toFixed(1) },
      name: p.xName,
      nameLocation: "middle",
      nameGap: 33,
      nameTextStyle: nameStyle,
    });
    xAxis.push({ ...xCommon, position: "top", axisLabel: { show: false } });

    const yCommon = {
      ...frame,
      gridIndex: i,
      type: "value",
      min: yTicks.min,
      max: yTicks.max,
      interval: yTicks.step,
      minorTick: { show: true, splitNumber: 10, length: 3, lineStyle: { color: "#000" } },
    };
    yAxis.push({
      ...yCommon,
      position: "left",
      axisLabel: {
        ...labelBase,
        margin: 7,
        showMinLabel: true,
        showMaxLabel: true,
        formatter: (v: number) => (v === yTicks.max ? `{hi|${v}}` : v === yTicks.min ? `{lo|−${-v}}` : v < 0 ? `−${-v}` : `${v}`),
        rich: {
          hi: { ...labelBase, padding: [14, 0, 0, 0] },
          lo: { ...labelBase, padding: [0, 0, 10, 0] },
        },
      },
      name: YNAME,
      nameLocation: "middle",
      nameGap: 42,
      nameTextStyle: nameStyle,
    });
    yAxis.push({ ...yCommon, position: "right", axisLabel: { show: false } });

    const mark = (data: number[][], color: string) => ({
      type: "scatter",
      xAxisIndex: 2 * i,
      yAxisIndex: 2 * i,
      data,
      symbol: "rect",
      symbolSize: 3.5,
      silent: true,
      itemStyle: { color, opacity: 1 },
    });
    series.push(mark(p.red, "#ff0000"));
    series.push(mark(p.blue, "#0000ff"));

    graphic.push({
      type: "text",
      x: left + width / 2 + 3,
      y: top - 13,
      style: { text: p.title, font: `16px "${FONT}"`, fill: "#000", textAlign: "center", textVerticalAlign: "middle" },
    });
    graphic.push({
      type: "text",
      x: p.tagAt[0],
      y: p.tagAt[1],
      style: { text: p.tag, font: `17px "${FONT}"`, fill: "#000", textAlign: "center", textVerticalAlign: "middle" },
    });
  });

  return { animation: false, backgroundColor: "#fff", grid, xAxis, yAxis, series, graphic };
}

export default function App() {
  const chartRef = useRef<HTMLDivElement>(null);

  useEffect(() => {
    const chart = echarts.init(chartRef.current as HTMLDivElement, undefined, { renderer: "svg" });
    chart.setOption(buildOption());
    return () => {
      chart.dispose();
    };
  }, []);

  return (
    <div
      ref={chartRef}
      style={{ position: "fixed", left: 0, top: 0, width: "1372px", height: "1029px", background: "#fff" }}
    />
  );
}
